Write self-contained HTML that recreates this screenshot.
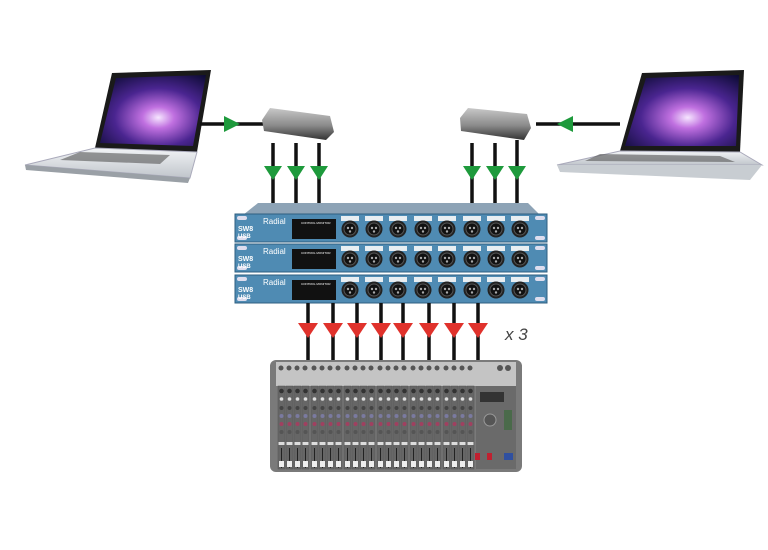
<!DOCTYPE html>
<html><head><meta charset="utf-8"><style>
html,body{margin:0;padding:0;background:#fff;width:768px;height:550px;overflow:hidden}
svg{display:block}
</style></head><body>
<svg width="768" height="550" viewBox="0 0 768 550" xmlns="http://www.w3.org/2000/svg" font-family="Liberation Sans, sans-serif">
<defs>
<radialGradient id="scr" cx="0.55" cy="0.6" r="0.75">
<stop offset="0" stop-color="#f6e6ff"/><stop offset="0.2" stop-color="#c070e0"/><stop offset="0.55" stop-color="#4a2590"/><stop offset="1" stop-color="#0a0a30"/></radialGradient>
<linearGradient id="base" x1="0" y1="0" x2="0" y2="1"><stop offset="0" stop-color="#f2f4f6"/><stop offset="1" stop-color="#c0c5cb"/></linearGradient>
<linearGradient id="box" x1="0" y1="0" x2="0" y2="1"><stop offset="0" stop-color="#c8c8c8"/><stop offset="0.55" stop-color="#8a8a8a"/><stop offset="1" stop-color="#333"/></linearGradient>
<linearGradient id="mix" x1="0" y1="0" x2="0" y2="1"><stop offset="0" stop-color="#c8c8c8"/><stop offset="0.2" stop-color="#8a8a8a"/><stop offset="1" stop-color="#707070"/></linearGradient>
<g id="xlr"><circle r="8.5" fill="#222"/><circle r="6" fill="#111" stroke="#555"/><circle cx="-2" cy="-1" r="1.2" fill="#aaa"/><circle cx="2" cy="-1" r="1.2" fill="#aaa"/><circle cx="0" cy="2.5" r="1.2" fill="#aaa"/></g>
<g id="unit">
<rect x="0" y="0" width="312" height="28" fill="#4f8bb3" stroke="#2f5f80"/>
<rect x="2" y="2" width="10" height="4" rx="2" fill="#dde"/><rect x="2" y="22" width="10" height="4" rx="2" fill="#dde"/>
<rect x="300" y="2" width="10" height="4" rx="2" fill="#dde"/><rect x="300" y="22" width="10" height="4" rx="2" fill="#dde"/>
<text x="3" y="17" font-size="7" font-weight="bold" fill="#fff">SW8</text><text x="3" y="24" font-size="6" font-weight="bold" fill="#fff">USB</text>
<text x="28" y="10" font-size="8" fill="#fff">Radial</text>
<rect x="57" y="5" width="44" height="20" fill="#111"/>
<text x="66" y="10" font-size="3" fill="#fff">CONTROL MONITOR</text>
<g fill="#e8eef2"><rect x="106" y="2" width="18" height="5"/><rect x="130" y="2" width="18" height="5"/><rect x="154" y="2" width="18" height="5"/><rect x="179" y="2" width="18" height="5"/><rect x="203" y="2" width="18" height="5"/><rect x="228" y="2" width="18" height="5"/><rect x="252" y="2" width="18" height="5"/><rect x="276" y="2" width="18" height="5"/></g>
</g>
<g id="strip"><rect x="0" y="0" width="7" height="83" fill="#666" stroke="#555" stroke-width="0.5"/>
<circle cx="3.5" cy="5" r="2.3" fill="#333"/><circle cx="3.5" cy="13" r="1.8" fill="#ddd"/><circle cx="3.5" cy="22" r="2" fill="#444"/><circle cx="3.5" cy="30" r="2" fill="#7a7aa0"/><circle cx="3.5" cy="38" r="2" fill="#a04060"/><circle cx="3.5" cy="46" r="2" fill="#555"/>
<rect x="0.5" y="56" width="6" height="3" fill="#ddd"/><rect x="3" y="62" width="1" height="20" fill="#222"/><rect x="1" y="75" width="5" height="6" fill="#eee"/></g>
</defs>

<!-- Left laptop -->
<polygon points="112,73 211,70 197,152 95,148" fill="#1a1a1a"/>
<polygon points="116,78 206,75 193,146 100,143" fill="url(#scr)"/>
<polygon points="95,148 197,152 190,178 25,165" fill="url(#base)" stroke="#aab"/>
<polygon points="25,165 190,178 188,183 26,170" fill="#9aa0a6"/>
<polygon points="80,152 170,155 160,164 60,160" fill="#555" opacity="0.6"/>

<!-- Right laptop -->
<polygon points="642,73 744,70 740,152 620,151" fill="#1a1a1a"/>
<polygon points="646,78 739,75 736,146 625,146" fill="url(#scr)"/>
<polygon points="620,151 740,152 762,165 557,165" fill="url(#base)" stroke="#aab"/>
<polygon points="557,165 762,165 750,180 560,172" fill="#c8cdd2"/>
<polygon points="600,154 720,156 735,162 585,161" fill="#555" opacity="0.6"/>

<!-- connectors to interfaces -->
<line x1="200" y1="124" x2="263" y2="124" stroke="#111" stroke-width="3.5"/>
<polygon points="224,116 224,132 240,124" fill="#1e9a3c"/>
<line x1="536" y1="124" x2="620" y2="124" stroke="#111" stroke-width="3.5"/>
<polygon points="573,116 573,132 557,124" fill="#1e9a3c"/>

<!-- interfaces -->
<polygon points="270,108 330,116 334,132 326,140 264,131 262,120" fill="url(#box)"/>
<polygon points="468,108 527,114 531,128 524,140 461,131 460,118" fill="url(#box)"/>

<!-- green down arrows -->
<g stroke="#111" stroke-width="3.5">
<line x1="273" y1="143" x2="273" y2="206"/><line x1="296" y1="143" x2="296" y2="206"/><line x1="319" y1="143" x2="319" y2="206"/>
<line x1="472" y1="143" x2="472" y2="206"/><line x1="495" y1="143" x2="495" y2="206"/><line x1="517" y1="140" x2="517" y2="206"/>
</g>
<g fill="#1e9a3c">
<polygon points="264,166 282,166 273,180"/><polygon points="287,166 305,166 296,180"/><polygon points="310,166 328,166 319,180"/>
<polygon points="463,166 481,166 472,180"/><polygon points="486,166 504,166 495,180"/><polygon points="508,166 526,166 517,180"/>
</g>

<!-- rack lid -->
<polygon points="258,203 528,203 540,215 243,215" fill="#8da3b6"/>

<!-- rack units -->
<g transform="translate(235,214)"><use href="#unit"/></g>
<g transform="translate(235,244)"><use href="#unit"/></g>
<g transform="translate(235,275)"><use href="#unit"/></g>
<g id="xl">
<g transform="translate(350,229)"><use href="#xlr"/></g><g transform="translate(374,229)"><use href="#xlr"/></g><g transform="translate(398,229)"><use href="#xlr"/></g><g transform="translate(423,229)"><use href="#xlr"/></g><g transform="translate(447,229)"><use href="#xlr"/></g><g transform="translate(472,229)"><use href="#xlr"/></g><g transform="translate(496,229)"><use href="#xlr"/></g><g transform="translate(520,229)"><use href="#xlr"/></g>
</g>
<use href="#xl" y="30"/><use href="#xl" y="61"/>

<!-- red arrows -->
<g stroke="#111" stroke-width="3.5">
<line x1="308" y1="303" x2="308" y2="362"/><line x1="333" y1="303" x2="333" y2="362"/><line x1="357" y1="303" x2="357" y2="362"/><line x1="381" y1="303" x2="381" y2="362"/><line x1="403" y1="303" x2="403" y2="362"/><line x1="429" y1="303" x2="429" y2="362"/><line x1="454" y1="303" x2="454" y2="362"/><line x1="478" y1="303" x2="478" y2="362"/>
</g>
<g fill="#e0322c">
<polygon points="298,323 318,323 308,338"/><polygon points="323,323 343,323 333,338"/><polygon points="347,323 367,323 357,338"/><polygon points="371,323 391,323 381,338"/><polygon points="393,323 413,323 403,338"/><polygon points="419,323 439,323 429,338"/><polygon points="444,323 464,323 454,338"/><polygon points="468,323 488,323 478,338"/>
</g>
<text x="505" y="340" font-size="17" font-style="italic" fill="#444">x 3</text>

<!-- mixer -->
<rect x="270" y="360" width="252" height="112" rx="6" fill="#7a7a7a"/>
<rect x="276" y="362" width="240" height="24" fill="#c4c4c4"/>
<g fill="#555">
<circle cx="281" cy="368" r="2.5"/><circle cx="289" cy="368" r="2.5"/><circle cx="297" cy="368" r="2.5"/><circle cx="305" cy="368" r="2.5"/><circle cx="314" cy="368" r="2.5"/><circle cx="322" cy="368" r="2.5"/><circle cx="330" cy="368" r="2.5"/><circle cx="338" cy="368" r="2.5"/><circle cx="347" cy="368" r="2.5"/><circle cx="355" cy="368" r="2.5"/><circle cx="363" cy="368" r="2.5"/><circle cx="371" cy="368" r="2.5"/><circle cx="380" cy="368" r="2.5"/><circle cx="388" cy="368" r="2.5"/><circle cx="396" cy="368" r="2.5"/><circle cx="404" cy="368" r="2.5"/><circle cx="413" cy="368" r="2.5"/><circle cx="421" cy="368" r="2.5"/><circle cx="429" cy="368" r="2.5"/><circle cx="437" cy="368" r="2.5"/><circle cx="446" cy="368" r="2.5"/><circle cx="454" cy="368" r="2.5"/><circle cx="462" cy="368" r="2.5"/><circle cx="470" cy="368" r="2.5"/><circle cx="500" cy="368" r="3"/><circle cx="508" cy="368" r="3"/>
</g>
<g id="strips">
<use href="#strip" x="278" y="386"/><use href="#strip" x="286" y="386"/><use href="#strip" x="294" y="386"/><use href="#strip" x="302" y="386"/><use href="#strip" x="311" y="386"/><use href="#strip" x="319" y="386"/><use href="#strip" x="327" y="386"/><use href="#strip" x="335" y="386"/><use href="#strip" x="344" y="386"/><use href="#strip" x="352" y="386"/><use href="#strip" x="360" y="386"/><use href="#strip" x="368" y="386"/><use href="#strip" x="377" y="386"/><use href="#strip" x="385" y="386"/><use href="#strip" x="393" y="386"/><use href="#strip" x="401" y="386"/><use href="#strip" x="410" y="386"/><use href="#strip" x="418" y="386"/><use href="#strip" x="426" y="386"/><use href="#strip" x="434" y="386"/><use href="#strip" x="443" y="386"/><use href="#strip" x="451" y="386"/><use href="#strip" x="459" y="386"/><use href="#strip" x="467" y="386"/>
</g>
<rect x="476" y="386" width="40" height="83" fill="#6a6a6a"/>
<rect x="480" y="392" width="24" height="10" fill="#333"/>
<circle cx="490" cy="420" r="6" fill="#555" stroke="#999"/>
<rect x="504" y="410" width="8" height="20" fill="#4a6a4a"/>
<rect x="475" y="453" width="5" height="7" fill="#c02030"/><rect x="487" y="453" width="5" height="7" fill="#c02030"/><rect x="504" y="453" width="9" height="7" fill="#3050a0"/>
</svg>
</body></html>
